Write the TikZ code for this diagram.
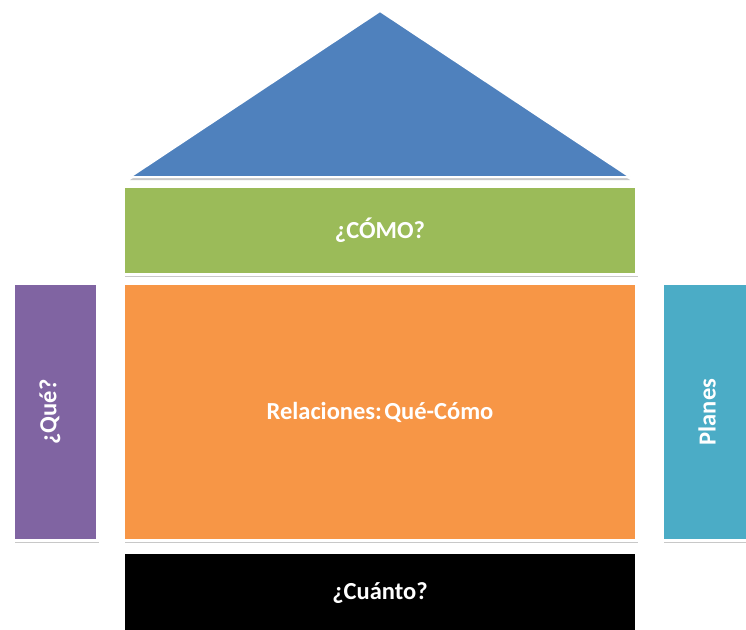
\documentclass[tikz,border=0pt]{standalone}
\usepackage{fontspec}
\usepackage{graphicx}
\setmainfont{Carlito}
\usetikzlibrary{shadows}
\definecolor{roofblue}{HTML}{4F81BD}
\definecolor{howgreen}{HTML}{9BBB59}
\definecolor{relorange}{HTML}{F79646}
\definecolor{whatpurple}{HTML}{8064A2}
\definecolor{planteal}{HTML}{4BACC6}
\tikzset{
  block/.style={draw=white, line width=2.5pt, inner sep=0pt, text=white,
    font=\bfseries\fontsize{24.5}{28}\selectfont,
    drop shadow={shadow xshift=1.5pt, shadow yshift=-3pt, opacity=0.3, fill=black!70}},
  roof/.style={fill=roofblue, draw=white, line width=2pt, line join=miter,
    drop shadow={shadow xshift=0pt, shadow yshift=-3pt, opacity=0.3, fill=black!70}}
}
\begin{document}
\begin{tikzpicture}[x=1pt,y=-1pt]
\useasboundingbox (0,0) rectangle (746,629);
\clip (0,0) rectangle (746,629);
\fill[white] (0,0) rectangle (746,629);
% roof
\coordinate (apex) at (380,11);
\coordinate (rl) at (130,177);
\coordinate (rr) at (630,177);
\path[roof] (rl) -- (apex) -- (rr) -- cycle;
% blocks
\node[block, fill=howgreen, minimum width=512.5pt, minimum height=87.5pt] (como) at (380,230.5) {¿CÓMO?};
\node[block, fill=relorange, minimum width=512.5pt, minimum height=256.5pt] (rel) at (380,412) {Relaciones:\hspace{0.1em}Qué-Cómo};
\node[block, fill=whatpurple, minimum width=83.5pt, minimum height=256.5pt] (que) at (55.5,412) {\rotatebox{90}{¿Qué?}\hspace*{11pt}};
\node[block, fill=planteal, minimum width=88.5pt, minimum height=256.5pt] (planes) at (707,412) {\rotatebox{90}{Planes}};
\node[block, fill=black, draw=white, minimum width=512.5pt, minimum height=80.5pt] (cuanto) at (380,593) {¿Cuánto?};
\end{tikzpicture}
\end{document}
